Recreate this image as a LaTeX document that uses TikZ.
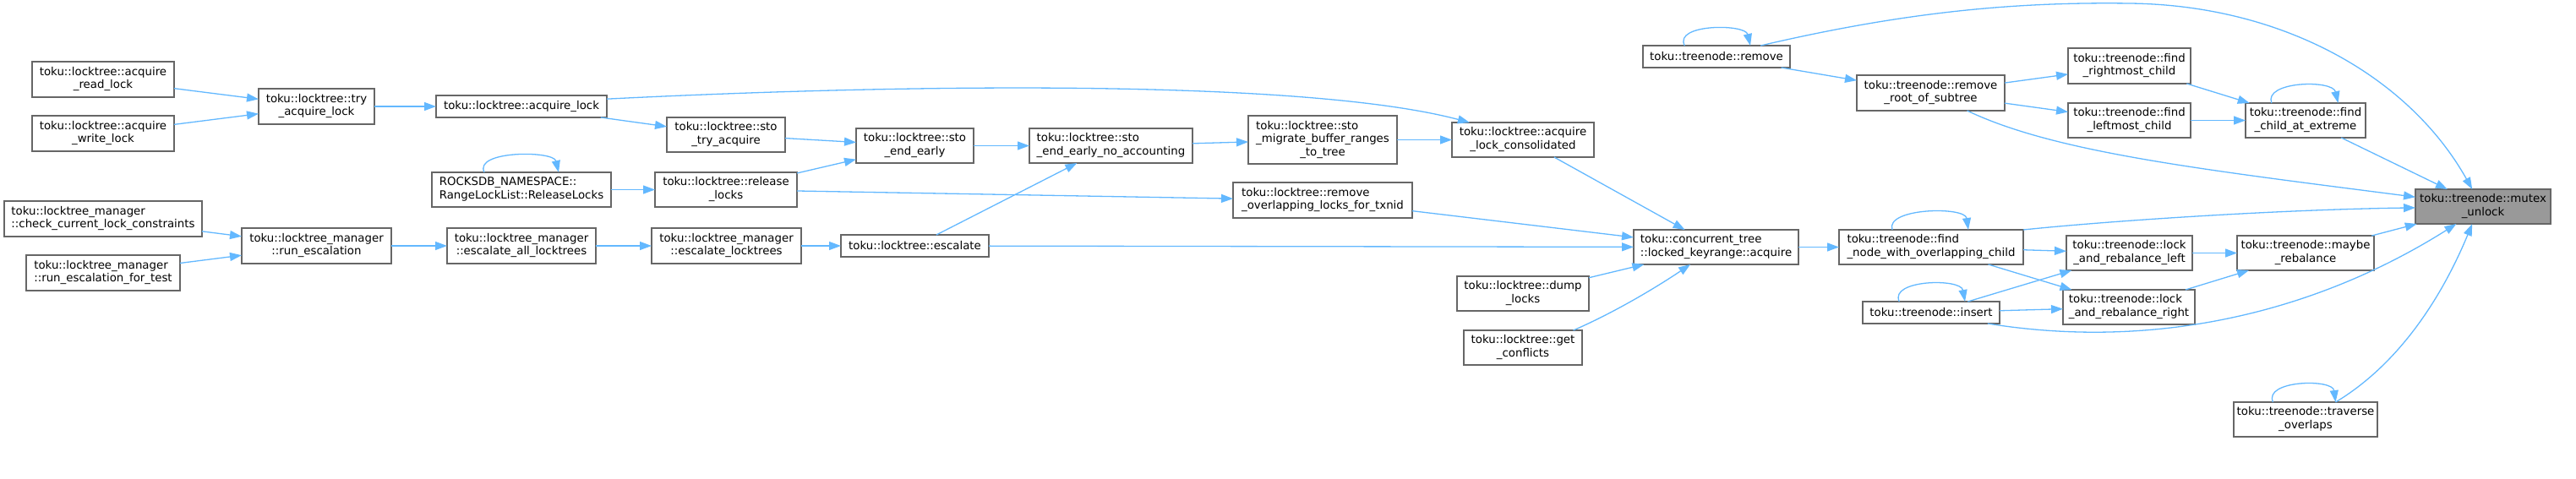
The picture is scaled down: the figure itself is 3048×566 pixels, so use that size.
\documentclass[tikz,border=0pt]{standalone}
\usepackage{fontspec}
\setmainfont{DejaVu Sans}
\usetikzlibrary{arrows.meta}
\definecolor{edgecol}{HTML}{63B8FF}
\definecolor{nodeborder}{HTML}{666666}
\definecolor{hifill}{HTML}{999999}
\newcommand{\TwoL}[2]{\begin{tabular}{@{}l@{}}#1\\\multicolumn{1}{@{}c@{}}{#2}\end{tabular}}
\newcommand{\ThreeL}[3]{\begin{tabular}{@{}l@{}}#1\\#2\\\multicolumn{1}{@{}c@{}}{#3}\end{tabular}}
\tikzset{
  box/.style={draw=nodeborder, fill=white, line width=1.3pt, inner sep=0pt, outer sep=0pt,
    font=\fontsize{13.33pt}{15.6pt}\selectfont, align=center},
  hibox/.style={box, fill=hifill},
  edge/.style={draw=edgecol, line width=1.3pt, -{Triangle[length=14pt,width=10pt]}}
}
\renewcommand{\arraystretch}{1}
\begin{document}
\begin{tikzpicture}[x=1pt,y=-1pt]
\useasboundingbox (0,0) rectangle (3048,566);
% nodes
\node[box, minimum width=168pt, minimum height=42pt] (arl) at (122,94) {\TwoL{toku::locktree::acquire}{\_read\_lock}};
\node[box, minimum width=168pt, minimum height=42pt] (awl) at (122,158) {\TwoL{toku::locktree::acquire}{\_write\_lock}};
\node[box, minimum width=137pt, minimum height=42pt] (tal) at (374.5,126) {\TwoL{toku::locktree::try}{\_acquire\_lock}};
\node[box, minimum width=234pt, minimum height=42pt] (ccc) at (122,259) {\TwoL{toku::locktree\_manager}{::check\_current\_lock\_constraints}};
\node[box, minimum width=182pt, minimum height=42pt] (ret) at (122,323) {\TwoL{toku::locktree\_manager}{::run\_escalation\_for\_test}};
\node[box, minimum width=177pt, minimum height=42pt] (res) at (374.5,291) {\TwoL{toku::locktree\_manager}{::run\_escalation}};
\node[box, minimum width=202pt, minimum height=26pt] (al) at (617,126) {toku::locktree::acquire\_lock};
\node[box, minimum width=140pt, minimum height=41pt] (sta) at (859,159.5) {\TwoL{toku::locktree::sto}{\_try\_acquire}};
\node[box, minimum width=212pt, minimum height=41pt] (rll) at (617,224.5) {\TwoL{ROCKSDB\_NAMESPACE::}{RangeLockList::ReleaseLocks}};
\node[box, minimum width=168pt, minimum height=41pt] (rel) at (859,224.5) {\TwoL{toku::locktree::release}{\_locks}};
\node[box, minimum width=176pt, minimum height=42pt] (eal) at (617,291) {\TwoL{toku::locktree\_manager}{::escalate\_all\_locktrees}};
\node[box, minimum width=177pt, minimum height=42pt] (elt) at (859.5,291) {\TwoL{toku::locktree\_manager}{::escalate\_locktrees}};
\node[box, minimum width=139pt, minimum height=41pt] (see) at (1082.5,172.5) {\TwoL{toku::locktree::sto}{\_end\_early}};
\node[box, minimum width=193pt, minimum height=41pt] (nac) at (1314.5,172.5) {\TwoL{toku::locktree::sto}{\_end\_early\_no\_accounting}};
\node[box, minimum width=175pt, minimum height=26pt] (esc) at (1082.5,291) {toku::locktree::escalate};
\node[box, minimum width=176pt, minimum height=57pt] (smb) at (1565,165.5) {\ThreeL{toku::locktree::sto}{\_migrate\_buffer\_ranges}{\_to\_tree}};
\node[box, minimum width=212pt, minimum height=42pt] (rol) at (1565,237) {\TwoL{toku::locktree::remove}{\_overlapping\_locks\_for\_txnid}};
\node[box, minimum width=168pt, minimum height=41pt] (alc) at (1802,165.5) {\TwoL{toku::locktree::acquire}{\_lock\_consolidated}};
\node[box, minimum width=195pt, minimum height=41pt] (lka) at (2030.5,292.5) {\TwoL{toku::concurrent\_tree}{::locked\_keyrange::acquire}};
\node[box, minimum width=156pt, minimum height=41pt] (dmp) at (1802,347.5) {\TwoL{toku::locktree::dump}{\_locks}};
\node[box, minimum width=140pt, minimum height=41pt] (gcf) at (1802,411.5) {\TwoL{toku::locktree::get}{\_conflicts}};
\node[box, minimum width=174pt, minimum height=26pt] (trm) at (2031,67) {toku::treenode::remove};
\node[box, minimum width=175pt, minimum height=42pt] (rrs) at (2284.5,110) {\TwoL{toku::treenode::remove}{\_root\_of\_subtree}};
\node[box, minimum width=218pt, minimum height=41pt] (fno) at (2285,292.5) {\TwoL{toku::treenode::find}{\_node\_with\_overlapping\_child}};
\node[box, minimum width=162pt, minimum height=26pt] (ins) at (2285,370) {toku::treenode::insert};
\node[box, minimum width=145pt, minimum height=42pt] (frc) at (2519.5,78) {\TwoL{toku::treenode::find}{\_rightmost\_child}};
\node[box, minimum width=145pt, minimum height=41pt] (flc) at (2519.5,142.5) {\TwoL{toku::treenode::find}{\_leftmost\_child}};
\node[box, minimum width=149pt, minimum height=41pt] (lrl) at (2519.5,299.5) {\TwoL{toku::treenode::lock}{\_and\_rebalance\_left}};
\node[box, minimum width=156pt, minimum height=41pt] (lrr) at (2519,363.5) {\TwoL{toku::treenode::lock}{\_and\_rebalance\_right}};
\node[box, minimum width=142pt, minimum height=41pt] (fce) at (2728,142.5) {\TwoL{toku::treenode::find}{\_child\_at\_extreme}};
\node[hibox, minimum width=160pt, minimum height=41pt] (mut) at (2938,244.5) {\TwoL{toku::treenode::mutex}{\_unlock}};
\node[box, minimum width=162pt, minimum height=41pt] (mrb) at (2728,299.5) {\TwoL{toku::treenode::maybe}{\_rebalance}};
\node[box, minimum width=170pt, minimum height=41pt] (tov) at (2728,496.5) {\TwoL{toku::treenode::traverse}{\_overlaps}};
% edges
\draw[edge] (arl) -- (tal);
\draw[edge] (awl) -- (tal);
\draw[edge] (tal) -- (al);
\draw[edge] (ccc) -- (res);
\draw[edge] (ret) -- (res);
\draw[edge] (res) -- (eal);
\draw[edge] (eal) -- (elt);
\draw[edge] (elt) -- (esc);
\draw[edge] (al) -- (sta);
\draw[edge] (al.5) .. controls (1100,98) and (1550,95) .. (alc.162);
\draw[edge] (rll.155) .. controls (560,178) and (655,178) .. (rll.25);
\draw[edge] (rll) -- (rel);
\draw[edge] (sta) -- (see);
\draw[edge] (rel) -- (see);
\draw[edge] (rel) -- (rol);
\draw[edge] (see) -- (nac);
\draw[edge] (esc) -- (nac);
\draw[edge] (esc) -- (lka);
\draw[edge] (nac) -- (smb);
\draw[edge] (smb) -- (alc);
\draw[edge] (alc) -- (lka);
\draw[edge] (rol) -- (lka);
\draw[edge] (dmp) -- (lka);
\draw[edge] (gcf.19) .. controls (1910,370) and (1960,340) .. (lka.214);
\draw[edge] (lka) -- (fno);
\draw[edge] (trm.161) .. controls (1980,28) and (2065,28) .. (trm.18);
\draw[edge] (trm) -- (rrs);
\draw[edge] (trm.14) .. controls (2250,15) and (2380,2) .. (2520,4) .. controls (2700,6) and (2850,90) .. (mut.122);
\draw[edge] (rrs) -- (frc);
\draw[edge] (rrs) -- (flc);
\draw[edge] (rrs.334) .. controls (2430,180) and (2600,200) .. (mut.172);
\draw[edge] (frc) -- (fce);
\draw[edge] (flc) -- (fce);
\draw[edge] (fce.153) .. controls (2678,96) and (2760,94) .. (fce.28);
\draw[edge] (fce) -- (mut);
\draw[edge] (fno.156) .. controls (2230,246) and (2325,244) .. (fno.25);
\draw[edge] (fno.north east) .. controls (2500,261) and (2700,248) .. (mut.181);
\draw[edge] (fno) -- (lrl);
\draw[edge] (fno) -- (lrr);
\draw[edge] (ins.161) .. controls (2235,331) and (2320,329) .. (ins.18);
\draw[edge] (ins) -- (lrl);
\draw[edge] (ins) -- (lrr);
\draw[edge] (ins.349) .. controls (2550,415) and (2740,370) .. (mut.213);
\draw[edge] (lrl) -- (mrb);
\draw[edge] (lrr) -- (mrb);
\draw[edge] (mrb) -- (mut);
\draw[edge] (tov.152) .. controls (2678,450) and (2760,448) .. (tov.30);
\draw[edge] (tov.30) .. controls (2840,430) and (2890,350) .. (mut.238);
\end{tikzpicture}
\end{document}
